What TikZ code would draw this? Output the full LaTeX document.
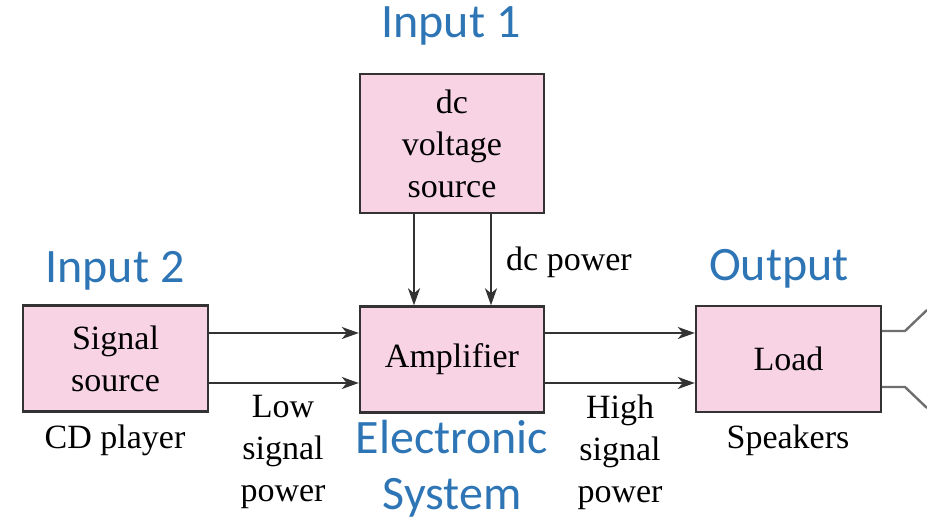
\documentclass[tikz,border=0pt]{standalone}
\usepackage{fontspec}
\setmainfont{Liberation Serif}
\newfontfamily\calib{Carlito}
\usetikzlibrary{arrows.meta}
\definecolor{boxpink}{HTML}{F8D3E4}
\definecolor{boxline}{HTML}{333333}
\definecolor{offblue}{HTML}{2E75B6}
\definecolor{wiregray}{HTML}{6E6E6E}
\tikzset{
  blockbox/.style={draw=boxline, line width=2.4pt, fill=boxpink, minimum width=184pt, minimum height=106pt, inner sep=0pt, align=center, font=\fontsize{34}{42}\selectfont, text=black},
  blocklabel/.style={align=center, font=\fontsize{34}{42}\selectfont, text=black, inner sep=0pt},
  bluelabel/.style={align=center, font=\calib\fontsize{48}{56}\selectfont, text=offblue, inner sep=0pt},
  sigarrow/.style={draw=boxline, line width=2.4pt, -{Stealth[length=17pt,width=12pt,inset=5pt]}},
  wire/.style={draw=wiregray, line width=2.4pt}
}
\begin{document}
\begin{tikzpicture}[x=1pt,y=-1pt]
\useasboundingbox (0,0) rectangle (927,522);
% blocks
\node[blockbox, minimum width=185pt] (src) at (115.5,358.5) {Signal\\source};
\node[blockbox] (dcs) at (452,143.5) [minimum height=139pt] {dc\\voltage\\source};
\node[blockbox] (amp) at (452,359.5) {Amplifier};
\node[blockbox, minimum width=185pt] (load) at (788.5,359) {Load};
% coordinates for arrow endpoints
\coordinate (s1) at (src.east |- 0,333);
\coordinate (s2) at (src.east |- 0,383);
\coordinate (a1) at (amp.west |- 0,333);
\coordinate (a2) at (amp.west |- 0,383);
\coordinate (o1) at (amp.east |- 0,333);
\coordinate (o2) at (amp.east |- 0,383);
\coordinate (l1) at (load.west |- 0,333);
\coordinate (l2) at (load.west |- 0,383);
\coordinate (d1) at (414,0 |- dcs.south);
\coordinate (d2) at (491,0 |- dcs.south);
\coordinate (e1) at (414,0 |- amp.north);
\coordinate (e2) at (491,0 |- amp.north);
\coordinate (w1) at (load.east |- 0,331);
\coordinate (w2) at (load.east |- 0,387);
\coordinate (k1) at (905,331);
\coordinate (k2) at (905,387);
\coordinate (t1) at (927,310);
\coordinate (t2) at (927,408);
% arrows
\draw[sigarrow] (s1) -- (a1);
\draw[sigarrow] (s2) -- (a2);
\draw[sigarrow] (o1) -- (l1);
\draw[sigarrow] (o2) -- (l2);
\draw[sigarrow] (d1) -- (e1);
\draw[sigarrow] (d2) -- (e2);
% speaker wires
\draw[wire] (w1) -- (k1) -- (t1);
\draw[wire] (w2) -- (k2) -- (t2);
% labels
\node[blocklabel] (cd) at (115,440) {CD player};
\node[blocklabel] (low) at (283,452) {Low\\signal\\power};
\node[blocklabel] (high) at (620,452) {High\\signal\\power};
\node[blocklabel] (spk) at (788,440) {Speakers};
\node[blocklabel, anchor=west] (dcp) at (506,262) {dc power};
% blue labels
\node[bluelabel] (in1) at (451,26) {Input 1};
\node[bluelabel] (in2) at (115,271) {Input 2};
\node[bluelabel] (out) at (779,269) {Output};
\node[bluelabel] (es) at (452,469) {Electronic\\System};
\end{tikzpicture}
\end{document}
